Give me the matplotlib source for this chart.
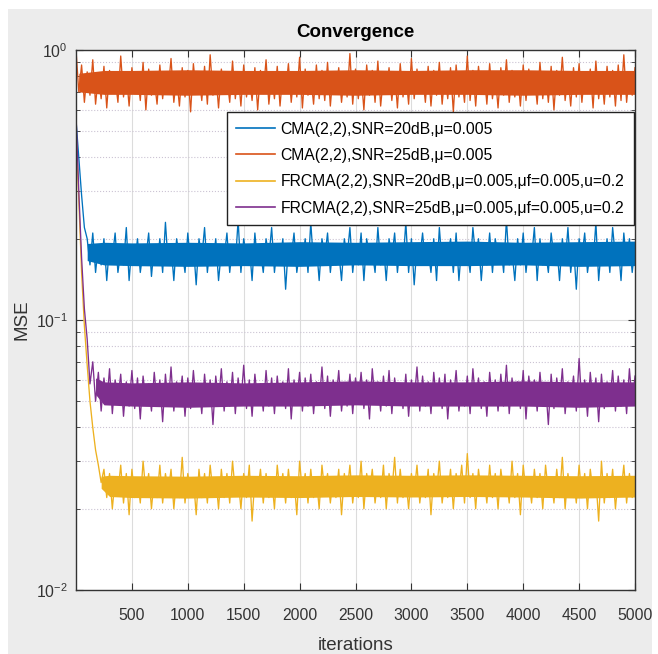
from __future__ import annotations

import numpy as np
import matplotlib
matplotlib.use("Agg")
import matplotlib.pyplot as plt
from matplotlib.patches import Rectangle
from matplotlib.ticker import FixedLocator, LogLocator, NullFormatter


# MSE, one value every 25 iterations (0..5000)
cma_20db = [
    0.55, 0.40, 0.29, 0.22, 0.20, 0.16, 0.21, 0.15, 0.19, 0.16,
    0.20, 0.14, 0.19, 0.17, 0.21, 0.15, 0.18, 0.16, 0.22, 0.14,
    0.19, 0.16, 0.20, 0.15, 0.18, 0.17, 0.21, 0.145, 0.19, 0.16,
    0.20, 0.15, 0.23, 0.16, 0.19, 0.14, 0.20, 0.17, 0.18, 0.15,
    0.21, 0.16, 0.19, 0.135, 0.20, 0.17, 0.22, 0.15, 0.19, 0.16,
    0.20, 0.14, 0.18, 0.17, 0.21, 0.15, 0.19, 0.16, 0.235, 0.15,
    0.20, 0.17, 0.19, 0.14, 0.21, 0.16, 0.18, 0.15, 0.20, 0.17,
    0.22, 0.15, 0.19, 0.16, 0.20, 0.13, 0.19, 0.17, 0.21, 0.15,
    0.18, 0.16, 0.20, 0.15, 0.23, 0.16, 0.19, 0.14, 0.20, 0.17,
    0.21, 0.15, 0.19, 0.16, 0.18, 0.14, 0.20, 0.17, 0.22, 0.15,
    0.19, 0.16, 0.21, 0.14, 0.20, 0.17, 0.18, 0.15, 0.22, 0.16,
    0.19, 0.14, 0.20, 0.17, 0.21, 0.15, 0.19, 0.16, 0.23, 0.15,
    0.20, 0.135, 0.19, 0.17, 0.21, 0.16, 0.18, 0.15, 0.20, 0.14,
    0.22, 0.16, 0.19, 0.17, 0.20, 0.15, 0.21, 0.14, 0.19, 0.16,
    0.18, 0.15, 0.22, 0.17, 0.20, 0.14, 0.19, 0.16, 0.21, 0.15,
    0.20, 0.17, 0.19, 0.15, 0.235, 0.16, 0.18, 0.14, 0.20, 0.16,
    0.21, 0.15, 0.19, 0.17, 0.22, 0.14, 0.20, 0.16, 0.18, 0.15,
    0.21, 0.17, 0.19, 0.14, 0.20, 0.16, 0.22, 0.15, 0.19, 0.13,
    0.20, 0.17, 0.21, 0.15, 0.18, 0.16, 0.23, 0.14, 0.19, 0.16,
    0.20, 0.15, 0.22, 0.17, 0.19, 0.14, 0.21, 0.16, 0.20, 0.15,
    0.19,
]

cma_25db = [
    1.00, 0.70, 0.88, 0.64, 0.83, 0.68, 0.92, 0.63, 0.80, 0.66,
    0.87, 0.61, 0.84, 0.70, 0.79, 0.64, 0.95, 0.67, 0.82, 0.62,
    0.86, 0.69, 0.81, 0.65, 0.90, 0.60, 0.85, 0.68, 0.78, 0.63,
    0.88, 0.66, 0.83, 0.71, 0.93, 0.64, 0.80, 0.62, 0.86, 0.67,
    0.84, 0.59, 0.89, 0.69, 0.81, 0.65, 0.87, 0.63, 0.96, 0.68,
    0.82, 0.61, 0.85, 0.70, 0.79, 0.64, 0.91, 0.66, 0.83, 0.62,
    0.88, 0.67, 0.80, 0.65, 0.86, 0.60, 0.84, 0.69, 0.92, 0.63,
    0.81, 0.66, 0.87, 0.62, 0.83, 0.70, 0.89, 0.64, 0.82, 0.67,
    0.94, 0.61, 0.85, 0.68, 0.80, 0.63, 0.88, 0.66, 0.84, 0.65,
    0.90, 0.62, 0.83, 0.69, 0.86, 0.64, 0.81, 0.67, 0.97, 0.63,
    0.85, 0.66, 0.82, 0.60, 0.88, 0.68, 0.84, 0.64, 0.91, 0.62,
    0.80, 0.69, 0.86, 0.65, 0.83, 0.61, 0.89, 0.67, 0.82, 0.63,
    0.93, 0.66, 0.85, 0.70, 0.81, 0.64, 0.87, 0.62, 0.84, 0.68,
    0.90, 0.63, 0.82, 0.66, 0.86, 0.59, 0.88, 0.67, 0.80, 0.64,
    0.95, 0.65, 0.84, 0.62, 0.87, 0.69, 0.83, 0.63, 0.89, 0.66,
    0.81, 0.61, 0.86, 0.68, 0.92, 0.64, 0.84, 0.67, 0.82, 0.62,
    0.88, 0.65, 0.85, 0.70, 0.80, 0.63, 0.90, 0.66, 0.83, 0.64,
    0.87, 0.60, 0.84, 0.68, 0.94, 0.65, 0.81, 0.62, 0.86, 0.67,
    0.89, 0.64, 0.83, 0.69, 0.85, 0.61, 0.91, 0.66, 0.82, 0.63,
    0.87, 0.67, 0.84, 0.62, 0.88, 0.65, 0.96, 0.64, 0.83, 0.68,
    0.86,
]

frcma_20db = [
    0.50, 0.28, 0.15, 0.095, 0.068, 0.050, 0.040, 0.033, 0.029, 0.025,
    0.028, 0.022, 0.027, 0.020, 0.026, 0.023, 0.029, 0.021, 0.027, 0.019,
    0.028, 0.022, 0.026, 0.021, 0.030, 0.023, 0.027, 0.020, 0.026, 0.022,
    0.029, 0.021, 0.027, 0.023, 0.028, 0.020, 0.026, 0.022, 0.031, 0.021,
    0.027, 0.023, 0.026, 0.019, 0.028, 0.022, 0.027, 0.021, 0.029, 0.023,
    0.026, 0.020, 0.028, 0.022, 0.027, 0.021, 0.030, 0.023, 0.026, 0.020,
    0.027, 0.022, 0.029, 0.018, 0.026, 0.023, 0.028, 0.021, 0.027, 0.022,
    0.026, 0.020, 0.029, 0.023, 0.027, 0.021, 0.028, 0.022, 0.026, 0.019,
    0.030, 0.023, 0.027, 0.021, 0.028, 0.022, 0.026, 0.020, 0.029, 0.023,
    0.027, 0.021, 0.026, 0.022, 0.028, 0.019, 0.027, 0.023, 0.029, 0.021,
    0.026, 0.022, 0.030, 0.020, 0.027, 0.023, 0.028, 0.021, 0.026, 0.022,
    0.029, 0.020, 0.027, 0.023, 0.031, 0.021, 0.028, 0.022, 0.026, 0.020,
    0.027, 0.023, 0.029, 0.021, 0.026, 0.022, 0.028, 0.019, 0.027, 0.023,
    0.030, 0.021, 0.026, 0.022, 0.028, 0.020, 0.027, 0.023, 0.029, 0.021,
    0.032, 0.022, 0.027, 0.020, 0.028, 0.023, 0.026, 0.021, 0.029, 0.022,
    0.027, 0.020, 0.028, 0.023, 0.026, 0.021, 0.030, 0.022, 0.027, 0.019,
    0.029, 0.023, 0.026, 0.021, 0.028, 0.022, 0.027, 0.020, 0.029, 0.023,
    0.026, 0.021, 0.028, 0.022, 0.031, 0.020, 0.027, 0.023, 0.026, 0.021,
    0.029, 0.022, 0.027, 0.020, 0.028, 0.023, 0.026, 0.018, 0.030, 0.021,
    0.027, 0.022, 0.028, 0.020, 0.026, 0.023, 0.029, 0.021, 0.027, 0.022,
    0.025,
]

frcma_25db = [
    0.58, 0.30, 0.17, 0.11, 0.085, 0.058, 0.070, 0.050, 0.064, 0.046,
    0.061, 0.049, 0.066, 0.045, 0.060, 0.051, 0.063, 0.044, 0.059, 0.048,
    0.065, 0.047, 0.061, 0.043, 0.062, 0.050, 0.058, 0.046, 0.064, 0.049,
    0.060, 0.042, 0.063, 0.048, 0.067, 0.046, 0.059, 0.050, 0.062, 0.044,
    0.061, 0.047, 0.065, 0.049, 0.058, 0.045, 0.063, 0.048, 0.060, 0.041,
    0.062, 0.050, 0.066, 0.046, 0.059, 0.048, 0.064, 0.045, 0.061, 0.049,
    0.068, 0.047, 0.060, 0.044, 0.063, 0.050, 0.058, 0.046, 0.065, 0.048,
    0.061, 0.045, 0.062, 0.049, 0.059, 0.047, 0.066, 0.043, 0.060, 0.050,
    0.064, 0.046, 0.061, 0.048, 0.063, 0.045, 0.059, 0.049, 0.067, 0.047,
    0.062, 0.044, 0.060, 0.050, 0.065, 0.046, 0.058, 0.048, 0.063, 0.045,
    0.061, 0.049, 0.064, 0.047, 0.060, 0.043, 0.066, 0.050, 0.059, 0.046,
    0.062, 0.048, 0.065, 0.045, 0.061, 0.049, 0.058, 0.047, 0.063, 0.044,
    0.060, 0.050, 0.067, 0.046, 0.062, 0.048, 0.059, 0.045, 0.064, 0.049,
    0.061, 0.047, 0.063, 0.043, 0.060, 0.050, 0.065, 0.046, 0.058, 0.048,
    0.062, 0.045, 0.066, 0.049, 0.061, 0.047, 0.059, 0.044, 0.064, 0.050,
    0.060, 0.046, 0.063, 0.048, 0.068, 0.045, 0.061, 0.049, 0.059, 0.047,
    0.065, 0.043, 0.062, 0.050, 0.060, 0.046, 0.064, 0.048, 0.058, 0.041,
    0.063, 0.047, 0.061, 0.049, 0.066, 0.045, 0.059, 0.050, 0.062, 0.046,
    0.072, 0.048, 0.060, 0.044, 0.064, 0.049, 0.061, 0.042, 0.063, 0.047,
    0.059, 0.050, 0.065, 0.046, 0.062, 0.048, 0.060, 0.045, 0.066, 0.049,
    0.062,
]

# dense core of each noisy trace (where the 5000 samples pile up)
cma_20db_band_it = [100, 250, 500, 1000, 1500, 2000, 2500, 3000, 3500, 4000, 4500, 5000]
cma_20db_lo = [0.166, 0.160, 0.159, 0.158, 0.159, 0.158, 0.160, 0.159, 0.159, 0.160, 0.158, 0.159]
cma_20db_hi = [0.192, 0.194, 0.193, 0.194, 0.193, 0.195, 0.194, 0.195, 0.196, 0.194, 0.195, 0.196]
cma_25db_band_it = [25, 250, 500, 1000, 1500, 2000, 2500, 3000, 3500, 4000, 4500, 5000]
cma_25db_lo = [0.70, 0.685, 0.685, 0.68, 0.685, 0.685, 0.68, 0.685, 0.685, 0.68, 0.685, 0.685]
cma_25db_hi = [0.82, 0.84, 0.84, 0.845, 0.84, 0.84, 0.845, 0.84, 0.845, 0.845, 0.84, 0.84]
frcma_20db_band_it = [225, 300, 500, 1000, 1500, 2000, 2500, 3000, 3500, 4000, 4500, 5000]
frcma_20db_lo = [0.0238, 0.0222, 0.0220, 0.0219, 0.0221, 0.0220, 0.0222, 0.0221, 0.0222, 0.0221, 0.0219, 0.0221]
frcma_20db_hi = [0.0264, 0.0266, 0.0265, 0.0264, 0.0266, 0.0265, 0.0267, 0.0266, 0.0267, 0.0266, 0.0265, 0.0266]
frcma_25db_band_it = [175, 250, 500, 1000, 1500, 2000, 2500, 3000, 3500, 4000, 4500, 5000]
frcma_25db_lo = [0.053, 0.0485, 0.048, 0.0475, 0.048, 0.048, 0.0485, 0.048, 0.048, 0.048, 0.0475, 0.048]
frcma_25db_hi = [0.061, 0.059, 0.0585, 0.059, 0.0585, 0.059, 0.0595, 0.059, 0.059, 0.0595, 0.059, 0.059]

SERIES = [
    ("CMA(2,2),SNR=20dB,μ=0.005", cma_20db,
     cma_20db_band_it, cma_20db_lo, cma_20db_hi, "#0072BD"),
    ("CMA(2,2),SNR=25dB,μ=0.005", cma_25db,
     cma_25db_band_it, cma_25db_lo, cma_25db_hi, "#D95319"),
    ("FRCMA(2,2),SNR=20dB,μ=0.005,μf=0.005,u=0.2", frcma_20db,
     frcma_20db_band_it, frcma_20db_lo, frcma_20db_hi, "#EDB120"),
    ("FRCMA(2,2),SNR=25dB,μ=0.005,μf=0.005,u=0.2", frcma_25db,
     frcma_25db_band_it, frcma_25db_lo, frcma_25db_hi, "#7E2F8E"),
]

x_ticks = [500, 1000, 1500, 2000, 2500, 3000, 3500, 4000, 4500, 5000]


def main():
    plt.rcParams["font.family"] = ["Liberation Sans", "DejaVu Sans"]
    plt.rcParams["mathtext.fontset"] = "custom"
    plt.rcParams["mathtext.rm"] = "Liberation Sans"
    plt.rcParams["mathtext.it"] = "Liberation Sans"

    fig = plt.figure(figsize=(6.58, 6.54), dpi=100, facecolor="white")
    # grey matlab-style window background
    fig.patches.append(Rectangle((8 / 658, 0), 644 / 658, 645 / 654,
                                 transform=fig.transFigure,
                                 facecolor="#ececec", edgecolor="none", zorder=-10))

    ax = fig.add_axes([76 / 658, 1 - 590 / 654, 559 / 658, 540 / 654])
    ax.set_facecolor("white")

    for label, values, band_it, lo, hi, color in SERIES:
        it = np.linspace(0, 5000, len(values))
        ax.fill_between(band_it, lo, hi, color=color, lw=0)
        ax.plot(it, values, color=color, lw=0.95, label=label)

    ax.set_yscale("log")
    ax.set_xlim(0, 5000)
    ax.set_ylim(1e-2, 1)
    ax.xaxis.set_major_locator(FixedLocator(x_ticks))
    ax.yaxis.set_major_locator(LogLocator(base=10, numticks=5))
    ax.yaxis.set_minor_locator(LogLocator(base=10, subs=np.arange(2, 10), numticks=20))
    ax.yaxis.set_minor_formatter(NullFormatter())

    ax.grid(True, which="major", color="#dcdcdc", lw=0.8, ls="-")
    ax.grid(True, which="minor", axis="y", color="#cbc3d3", lw=0.8, ls=":")
    ax.set_axisbelow(True)

    ax.tick_params(which="both", direction="in", top=True, right=True,
                   colors="#333333", labelsize=11.3)
    ax.tick_params(axis="x", pad=13)
    ax.tick_params(axis="y", pad=6)
    ax.tick_params(which="major", length=5, width=0.8)
    ax.tick_params(which="minor", length=3, width=0.6)
    for sp in ax.spines.values():
        sp.set_color("#333333")
        sp.set_linewidth(1.0)

    ax.set_title("Convergence", fontsize=13.5, fontweight="bold", pad=9)
    ax.set_xlabel("iterations", fontsize=13.5, color="#333333", labelpad=10)
    ax.set_ylabel("MSE", fontsize=13.5, color="#333333", labelpad=4)

    leg = ax.legend(loc="upper right", bbox_to_anchor=(0.998, 0.885), borderaxespad=0,
                    fontsize=11.3, handlelength=2.5, handletextpad=0.35,
                    labelspacing=0.73, borderpad=0.6, fancybox=False,
                    framealpha=1, edgecolor="#222222")
    leg.get_frame().set_linewidth(1.0)
    for line in leg.get_lines():
        line.set_linewidth(1.2)

    fig.savefig("out.png", dpi=100, facecolor=fig.get_facecolor())
    plt.close(fig)


if __name__ == "__main__":
    main()
